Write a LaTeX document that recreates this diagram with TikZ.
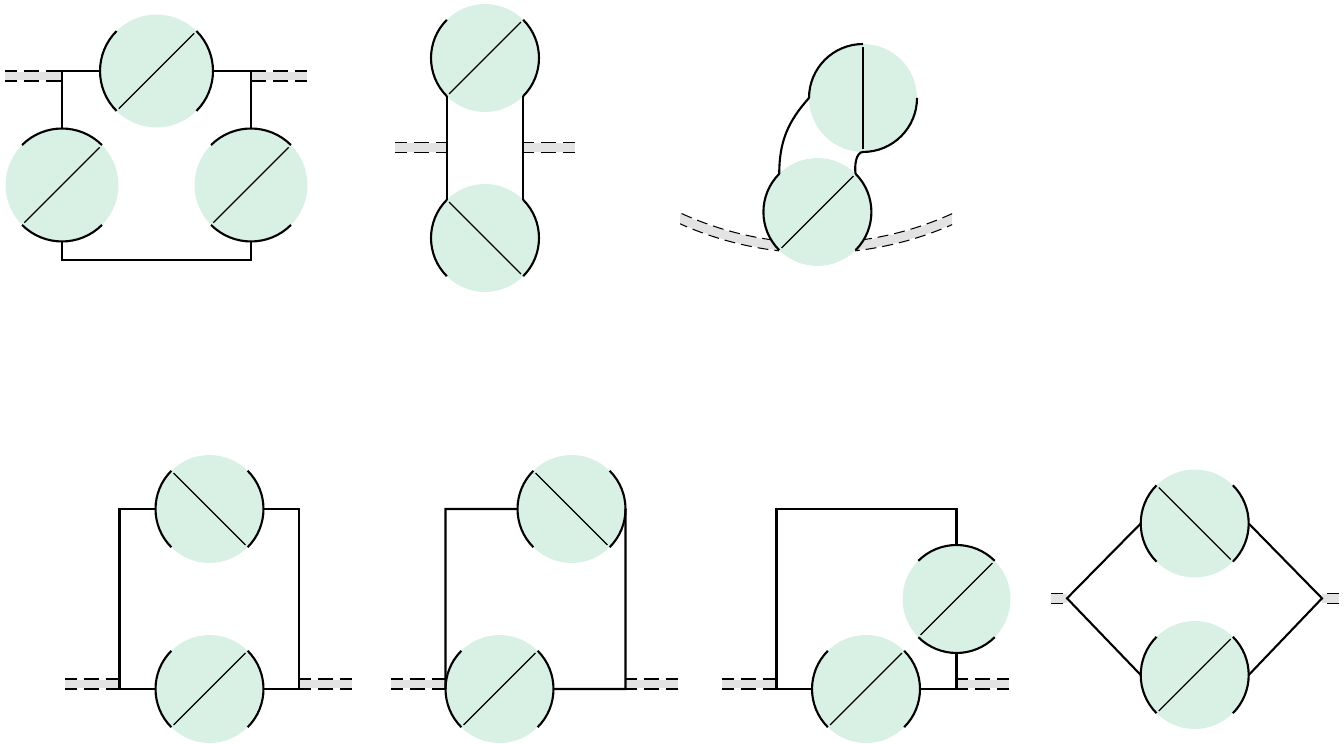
\documentclass[tikz,border=0pt]{standalone}
\usepackage{xcolor}
\usepackage{tikz}
\definecolor{blobgreen}{HTML}{D9F0E4}
\definecolor{bandgray}{HTML}{E3E3E3}
\tikzset{
    blob/.style={circle,fill=blobgreen,inner sep=0pt,outer sep=0pt,minimum size=\blobr*0.04cm},
    rim/.style={line width=1.2pt},
    slash/.style={line width=0.7pt,shorten <=1.8pt,shorten >=1.8pt},
    wire/.style={line width=1.2pt,line join=miter},
    bandfill/.style={line width=5.1pt,bandgray},
    banddash/.style={line width=0.6pt,dash pattern=on 15*0.5669pt off 7*0.5669pt,dash phase=3*0.5669pt}}
\def\blobr{54}
% name, centre, slash ends, start angles of the rims
\newcommand{\blobnode}[6]{
\node[blob] (#1) at (#2) {};
\draw[slash] (#1.#3) -- (#1.#4);
\foreach \a in {#5,#6} {\draw[rim] (#1.\a) arc (\a:\a+90:\blobr);}
}
\newcommand{\band}[2]{
\draw[bandfill] (#1) -- (#2);
\draw[banddash] ([yshift=0.1cm]#1) -- ([yshift=0.1cm]#2);
\draw[banddash] ([yshift=-0.1cm]#1) -- ([yshift=-0.1cm]#2);
}
\begin{document}
\begin{tikzpicture}[x=0.02cm,y=0.02cm]
\useasboundingbox (0,0) rectangle (1344,743);

\coordinate (b1a) at (5,667);
\coordinate (b1b) at (62,667);
\coordinate (b1c) at (307,667);
\coordinate (b1d) at (251,667);
\band{b1a}{b1b}
\band{b1c}{b1d}
\def\blobr{56.5}
\blobnode{A1}{156.5,672}{225}{45}{135}{315}
\blobnode{B1}{62,558}{225}{45}{45}{225}
\blobnode{C1}{251,558}{225}{45}{45}{225}
\def\blobr{54}
\coordinate (r1a) at (62,672);
\coordinate (r1b) at (251,672);
\coordinate (r1c) at (62,483);
\coordinate (r1d) at (251,483);
\draw[wire] (B1.north) -- (r1a) -- (A1.west);
\draw[wire] (C1.north) -- (r1b) -- (A1.east);
\draw[wire] (B1.south) -- (r1c) -- (r1d) -- (C1.south);

\coordinate (b2a) at (395,595.5);
\coordinate (b2b) at (447,595.5);
\coordinate (b2c) at (575,595.5);
\coordinate (b2d) at (523,595.5);
\band{b2a}{b2b}
\band{b2c}{b2d}
\blobnode{A2}{485,685}{225}{45}{135}{315}
\blobnode{B2}{485,505}{135}{315}{135}{315}
\draw[wire] (A2.225) -- (B2.135);
\draw[wire] (A2.315) -- (B2.45);

% curved band under the lower blob
\coordinate (c3) at (817,826);
\begin{scope}
\clip (680,400) rectangle (952,700);
\foreach \a/\b in {243/263.5,276.5/297} {
\draw[bandfill] (c3) ++(\a:331) arc (\a:\b:331);
}
\foreach \r in {326,336} {
\draw[banddash,dash pattern=on 11*0.5669pt off 6*0.5669pt] (c3) ++(243:\r) arc (243:263.5:\r);
\draw[banddash,dash pattern=on 11*0.5669pt off 6*0.5669pt] (c3) ++(297:\r) arc (297:276.5:\r);
}
\end{scope}
\blobnode{A3}{863,645}{90}{270}{90}{270}
\blobnode{B3}{817.4,531}{225}{45}{135}{315}
\draw[wire] (A3.180) to[out=228,in=90] (B3.135);
\draw[wire] (A3.270) to[out=180,in=100,looseness=0.8] (B3.45);

\coordinate (b4a) at (65,59);
\coordinate (b4b) at (119.5,59);
\coordinate (b4c) at (352,59);
\coordinate (b4d) at (299,59);
\band{b4a}{b4b}
\band{b4c}{b4d}
\blobnode{A4}{209.5,234}{135}{315}{135}{315}
\blobnode{B4}{209.5,54}{225}{45}{135}{315}
\coordinate (r4a) at (119.5,234);
\coordinate (r4b) at (119.5,54);
\coordinate (r4c) at (299,234);
\coordinate (r4d) at (299,54);
\draw[wire] (A4.west) -- (r4a) -- (r4b) -- (B4.west);
\draw[wire] (A4.east) -- (r4c) -- (r4d) -- (B4.east);

\coordinate (b5a) at (391,59);
\coordinate (b5b) at (445.5,59);
\coordinate (b5c) at (678,59);
\coordinate (b5d) at (625.5,59);
\band{b5a}{b5b}
\band{b5c}{b5d}
\blobnode{A5}{571.5,234}{135}{315}{135}{315}
\blobnode{B5}{499.5,54}{225}{45}{135}{315}
\coordinate (r5a) at (445.5,234);
\coordinate (r5b) at (625.5,54);
\draw[wire] (A5.west) -- (r5a) -- (B5.west);
\draw[wire] (A5.east) -- (r5b) -- (B5.east);

\coordinate (b6a) at (722,59);
\coordinate (b6b) at (776.5,59);
\coordinate (b6c) at (1009,59);
\coordinate (b6d) at (956.5,59);
\band{b6a}{b6b}
\band{b6c}{b6d}
\blobnode{A6}{956.5,144}{225}{45}{45}{225}
\blobnode{B6}{866,54}{225}{45}{135}{315}
\coordinate (r6a) at (776.5,54);
\coordinate (r6b) at (776.5,234);
\coordinate (r6c) at (956.5,234);
\coordinate (r6d) at (956.5,54);
\draw[wire] (B6.west) -- (r6a) -- (r6b) -- (r6c) -- (A6.north);
\draw[wire] (A6.south) -- (r6d) -- (B6.east);

\coordinate (b7a) at (1051,144.7);
\coordinate (b7b) at (1067,144.7);
\coordinate (b7c) at (1339,144.7);
\coordinate (b7d) at (1322,144.7);
\band{b7a}{b7b}
\band{b7c}{b7d}
\blobnode{A7}{1194.7,219.5}{135}{315}{135}{315}
\blobnode{B7}{1194.7,68}{225}{45}{135}{315}
\draw[wire] (A7.west) -- (b7b) -- (B7.west);
\draw[wire] (A7.east) -- (b7d) -- (B7.east);
\end{tikzpicture}
\end{document}
